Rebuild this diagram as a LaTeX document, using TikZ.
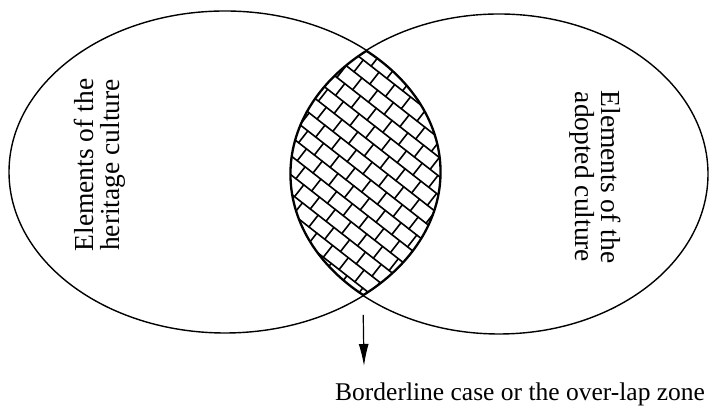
\documentclass[tikz,border=0pt]{standalone}
\usepackage{fontspec}
\setmainfont{Liberation Serif}
\usepackage{tikz}
\usetikzlibrary{positioning,arrows.meta}

\begin{document}
\begin{tikzpicture}[x=1pt,y=1pt,>={Latex[length=22pt,width=10pt]},
   ring/.style={draw,line width=1.4pt},
   hatch/.style={line width=1.6pt,line cap=round},
   culture/.style={font=\fontsize{27.5}{26}\selectfont,align=center,inner sep=0pt}]
 \useasboundingbox (0,0) rectangle (713,411);
 \coordinate (heritagec) at (225,239);
 \coordinate (adoptedc) at (499,237);
 \coordinate (lowcross) at (363,111);
 \coordinate (tip) at (364,45);
 \begin{scope}
  \clip (heritagec) ellipse [x radius=216pt,y radius=161pt];
  \clip (adoptedc) ellipse [x radius=209pt,y radius=160pt];
  \begin{scope}[shift={(363,237)},rotate=-38]
   \foreach \r in {-14,...,14} {
    \draw[hatch] (-240,\r*15) -- (240,\r*15);
    \foreach \c in {-13,...,13} {
     \pgfmathsetmacro{\xo}{\c*20+mod(abs(\r),2)*10}
     \draw[hatch] (\xo,\r*15) -- (\xo,\r*15+15);
    }
   }
  \end{scope}
  \draw[line width=3.2pt] (heritagec) ellipse [x radius=216pt,y radius=161pt];
  \draw[line width=3.2pt] (adoptedc) ellipse [x radius=209pt,y radius=160pt];
 \end{scope}
 \draw[ring] (heritagec) ellipse [x radius=216pt,y radius=161pt];
 \draw[ring] (adoptedc) ellipse [x radius=209pt,y radius=160pt];
 \node[culture,rotate=90] (heritage) at (100,246) {Elements of the\\heritage culture};
 \node[culture,rotate=-90] (adopted) at (595,234) {Elements of the\\adopted culture};
 \node[font=\fontsize{25.5}{26}\selectfont,inner sep=0pt,anchor=base west] (zone) at (335,10) {Borderline case or the over-lap zone};
 \draw[->,line width=1.2pt,shorten <=15pt] (lowcross) -- (tip);
\end{tikzpicture}
\end{document}
